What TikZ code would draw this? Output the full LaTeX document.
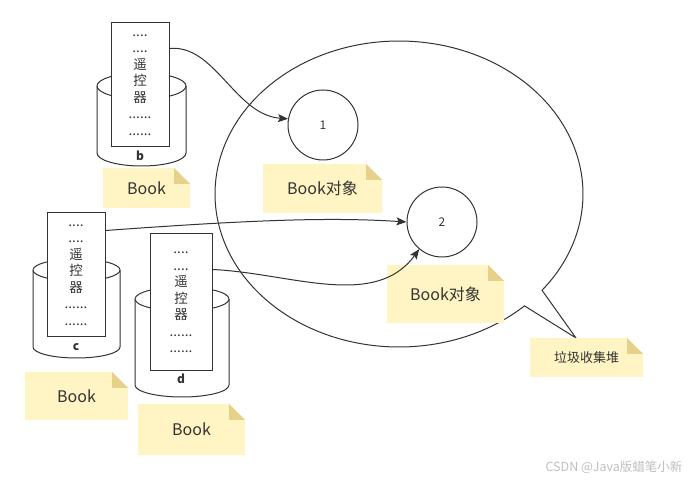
\documentclass[tikz,border=0pt]{standalone}
\usepackage{fontspec}
\setmainfont{Noto Sans CJK SC}
\usetikzlibrary{arrows.meta,calc}
\definecolor{ln}{HTML}{333333}
\definecolor{notebgc}{HTML}{FFF4C3}
\definecolor{notefoldc}{HTML}{E6D18B}
\tikzset{
  cyl/.style={draw=ln, fill=white, line width=1pt},
  rem/.style={draw=ln, fill=white, line width=1pt, align=center, inner sep=0pt,
              font=\fontsize{13.5}{16.5}\selectfont, text=ln},
  cyllabel/.style={font=\fontsize{12}{14}\selectfont\bfseries, text=ln, inner sep=1pt},
  obj/.style={circle, draw=ln, line width=1pt, minimum size=70pt, inner sep=0pt,
              font=\fontsize{12}{14}\selectfont, text=ln},
  notebg/.style={fill=notebgc},
  notecorner/.style={fill=notefoldc},
  notetext/.style={font=\fontsize{16}{18}\selectfont, text=ln, inner sep=1pt},
  bubble/.style={draw=ln, line width=1pt},
  link/.style={draw=ln, line width=1pt, -{Stealth[length=10pt,width=8pt,inset=2pt]}},
}
% note: x1 y1 x2 y2 name text
\newcommand\mynote[6]{%
  \fill[notebg] (#1,#2) -- ({#3-16},#2) -- (#3,{#2+16}) -- (#3,#4) -- (#1,#4) -- cycle;
  \fill[notecorner] ({#3-16},#2) -- ({#3-16},{#2+16}) -- (#3,{#2+16}) -- cycle;
  \node[notetext] (#5) at ({(#1+#3)/2},{(#2+#4)/2}) {#6};}
% cylinder: cx rx ytop ybot ry
\newcommand\mycyl[5]{%
  \filldraw[cyl] ({#1-#2},#3) -- ({#1-#2},#4)
     arc[start angle=180,end angle=360,x radius=#2pt,y radius=#5pt]
     -- ({#1+#2},#3)
     arc[start angle=0,end angle=180,x radius=#2pt,y radius=#5pt] -- cycle;
  \draw[cyl] ({#1-#2},#3) arc[start angle=180,end angle=360,x radius=#2pt,y radius=#5pt];}
\begin{document}
\begin{tikzpicture}[x=1pt,y=-1pt]
\useasboundingbox (0,0) rectangle (689,481);

% speech bubble (garbage heap)
\draw[bubble] plot[domain=47:399,samples=240] ({399+184*cos(\x)},{194+153*sin(\x)})
   -- (576,338) -- cycle;

% cylinders and remote rectangles
\mycyl{141.5}{44.5}{86}{153}{13}
\node[rem, minimum width=58pt, minimum height=124pt] (rb) at (140,85)
  {....\\....\\遥\\控\\器\\......\\......};
\node[cyllabel] (lb) at (140,156) {b};

\mycyl{76.5}{43.5}{270}{347}{11}
\node[rem, minimum width=58pt, minimum height=124pt] (rc) at (76,275)
  {....\\....\\遥\\控\\器\\......\\......};
\node[cyllabel] (lc) at (76,347) {c};

\mycyl{182}{47}{299}{385}{12}
\node[rem, minimum width=62pt, minimum height=137pt] (rd) at (181,302.5)
  {....\\....\\遥\\控\\器\\......\\......};
\node[cyllabel] (ld) at (181,379) {d};

% objects
\node[obj] (o1) at (323,125) {1};
\node[obj] (o2) at (442,222) {2};

% notes
\mynote{103}{168}{190}{208}{nb}{Book}
\mynote{25}{372}{128}{420}{nc}{Book}
\mynote{138}{404}{245}{455}{nd}{Book}
\mynote{263}{164}{382}{213}{n1}{Book对象}
\mynote{387}{265}{504}{323}{n2}{Book对象}
\fill[notebg] (530,338) -- (627,338) -- (643,354) -- (643,377) -- (530,377) -- cycle;
\fill[notecorner] (627,338) -- (627,354) -- (643,354) -- cycle;
\node[notetext, font=\fontsize{13}{15}\selectfont] (nh) at (586.5,358) {垃圾收集堆};

% links
\draw[link] ([yshift=-26pt]rb.north east) .. controls (215,44) and (235,115) .. (o1.170);
\draw[link] ([yshift=-18pt]rc.north east) .. controls (250,220) and (330,217) .. (o2.west);
\draw[link] ([yshift=-36pt]rd.north east) .. controls (290,273) and (375,310) .. (o2.230);

% watermark
\node[font=\fontsize{12.5}{14}\selectfont, text=black!25, inner sep=0pt] (wm) at (614,467) {CSDN @Java版蜡笔小新};
\end{tikzpicture}
\end{document}
